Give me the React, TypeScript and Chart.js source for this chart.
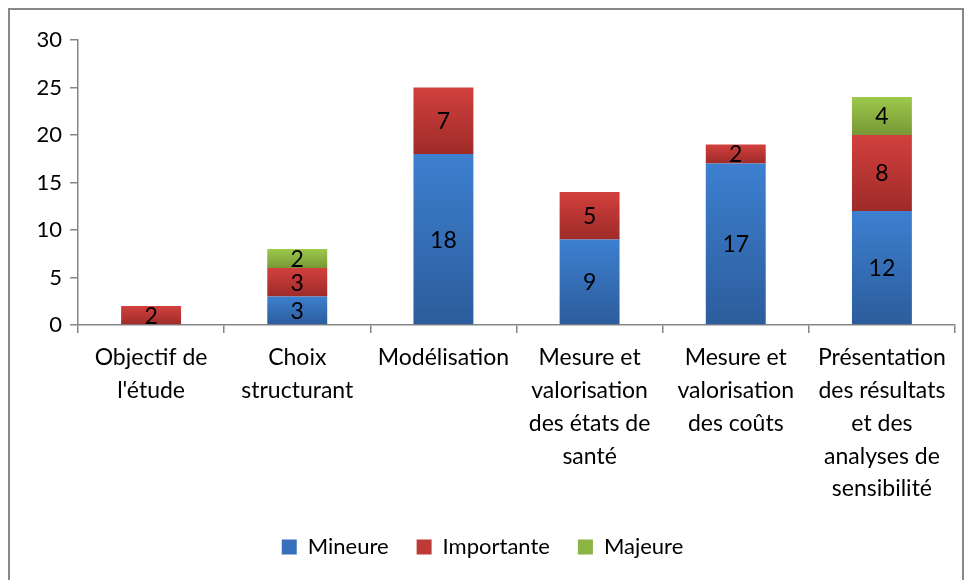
import React, { useEffect, useRef } from "react";
import { Chart, registerables } from "chart.js";

Chart.register(...registerables);

const categories: string[][] = [
  ["Objectif de", "l'étude"],
  ["Choix", "structurant"],
  ["Modélisation"],
  ["Mesure et", "valorisation", "des états de", "santé"],
  ["Mesure et", "valorisation", "des coûts"],
  ["Présentation", "des résultats", "et des", "analyses de", "sensibilité"],
];
const mineure = [0, 3, 18, 9, 17, 12];
const importante = [2, 3, 7, 5, 2, 8];
const majeure = [0, 2, 0, 0, 0, 4];
const yTicks = [0, 5, 10, 15, 20, 25, 30];

const FONT = "Lato, Carlito, 'Open Sans', sans-serif";

const seriesColors = [
  { top: "#3d80d0", bottom: "#2c5c9c", legend: "#3870bc" },
  { top: "#d2403d", bottom: "#9e2b29", legend: "#bf3a37" },
  { top: "#9dc94c", bottom: "#779836", legend: "#8ab444" },
];

const allSeries = [mineure, importante, majeure];

function gradientFor(ctx: any) {
  const chart = ctx.chart;
  const di = ctx.datasetIndex;
  const i = ctx.dataIndex;
  const c = seriesColors[di];
  if (ctx.type !== "data") return c.legend;
  const y = chart.scales?.y;
  if (!y || !chart.chartArea) return c.legend;
  let base = 0;
  for (let k = 0; k < di; k++) base += allSeries[k][i];
  const v = allSeries[di][i];
  const top = y.getPixelForValue(base + v);
  const bot = y.getPixelForValue(base);
  if (!isFinite(top) || !isFinite(bot) || top === bot) return c.legend;
  const g = chart.ctx.createLinearGradient(0, top, 0, bot);
  g.addColorStop(0, c.top);
  g.addColorStop(1, c.bottom);
  return g;
}

const labelPlugin = {
  id: "barLabels",
  afterDatasetsDraw(chart: any) {
    const ctx = chart.ctx;
    ctx.save();
    ctx.font = `23px ${FONT}`;
    ctx.fillStyle = "#000";
    ctx.textAlign = "center";
    ctx.textBaseline = "middle";
    chart.data.datasets.forEach((ds: any, di: number) => {
      const meta = chart.getDatasetMeta(di);
      meta.data.forEach((el: any, i: number) => {
        const v = ds.data[i];
        if (!v) return;
        const yMid = (el.y + el.base) / 2;
        ctx.fillText(String(v), el.x, yMid + 1);
      });
    });
    ctx.restore();
  },
};

export default function App() {
  const ref = useRef<HTMLCanvasElement | null>(null);
  useEffect(() => {
    if (!ref.current) return;
    const chart = new Chart(ref.current, {
      type: "bar",
      data: {
        labels: categories as any,
        datasets: [
          { label: "Mineure", data: mineure, backgroundColor: gradientFor as any },
          { label: "Importante", data: importante, backgroundColor: gradientFor as any },
          { label: "Majeure", data: majeure, backgroundColor: gradientFor as any },
        ],
      },
      options: {
        animation: false,
        responsive: false,
        maintainAspectRatio: false,
        layout: { padding: { left: 10, right: 17, top: 40, bottom: 12 } },
        datasets: { bar: { barPercentage: 0.82, categoryPercentage: 0.5 } } as any,
        plugins: {
          legend: {
            position: "bottom",
            labels: {
              font: { family: FONT, size: 22 },
              color: "#000",
              boxWidth: 15,
              boxHeight: 15,
              padding: 28,
              generateLabels: (ch: any) =>
                ch.data.datasets.map((ds: any, i: number) => ({
                  text: ds.label,
                  fillStyle: seriesColors[i].legend,
                  strokeStyle: seriesColors[i].legend,
                  lineWidth: 0,
                  datasetIndex: i,
                  hidden: false,
                  fontColor: "#000",
                })),
            },
          },
          tooltip: { enabled: false },
        },
        scales: {
          x: {
            stacked: true,
            grid: {
              display: true,
              drawOnChartArea: false,
              drawTicks: true,
              tickLength: 8,
              color: "#868686",
              lineWidth: 1.5,
              offset: true,
            },
            border: { color: "#868686", width: 1.5 },
            ticks: {
              font: { family: FONT, size: 23, lineHeight: 1.43 } as any,
              color: "#000",
              maxRotation: 0,
              autoSkip: false,
              padding: 8,
            },
            afterFit: (s: any) => {
              s.height = 183;
            },
          },
          y: {
            stacked: true,
            min: 0,
            max: 30,
            afterBuildTicks: (s: any) => {
              s.ticks = yTicks.map((v) => ({ value: v }));
            },
            grid: {
              display: true,
              drawOnChartArea: false,
              drawTicks: true,
              tickLength: 8,
              color: "#868686",
              lineWidth: 1.5,
            },
            border: { color: "#868686", width: 1.5 },
            ticks: {
              font: { family: FONT, size: 22 },
              color: "#000",
              padding: 8,
            },
            afterFit: (s: any) => {
              s.width = 68;
            },
          },
        },
      },
      plugins: [labelPlugin],
    });
    return () => chart.destroy();
  }, []);
  return (
    <div style={{ position: "absolute", left: 0, top: 0, width: 972, height: 580, background: "#fff", overflow: "hidden" }}>
      <div
        style={{
          position: "absolute",
          left: 8,
          top: 8,
          width: 956,
          height: 600,
          border: "2px solid #888",
          boxSizing: "border-box",
        }}
      />
      <canvas ref={ref} width={972} height={580} style={{ position: "absolute", left: 0, top: 0 }} />
    </div>
  );
}
